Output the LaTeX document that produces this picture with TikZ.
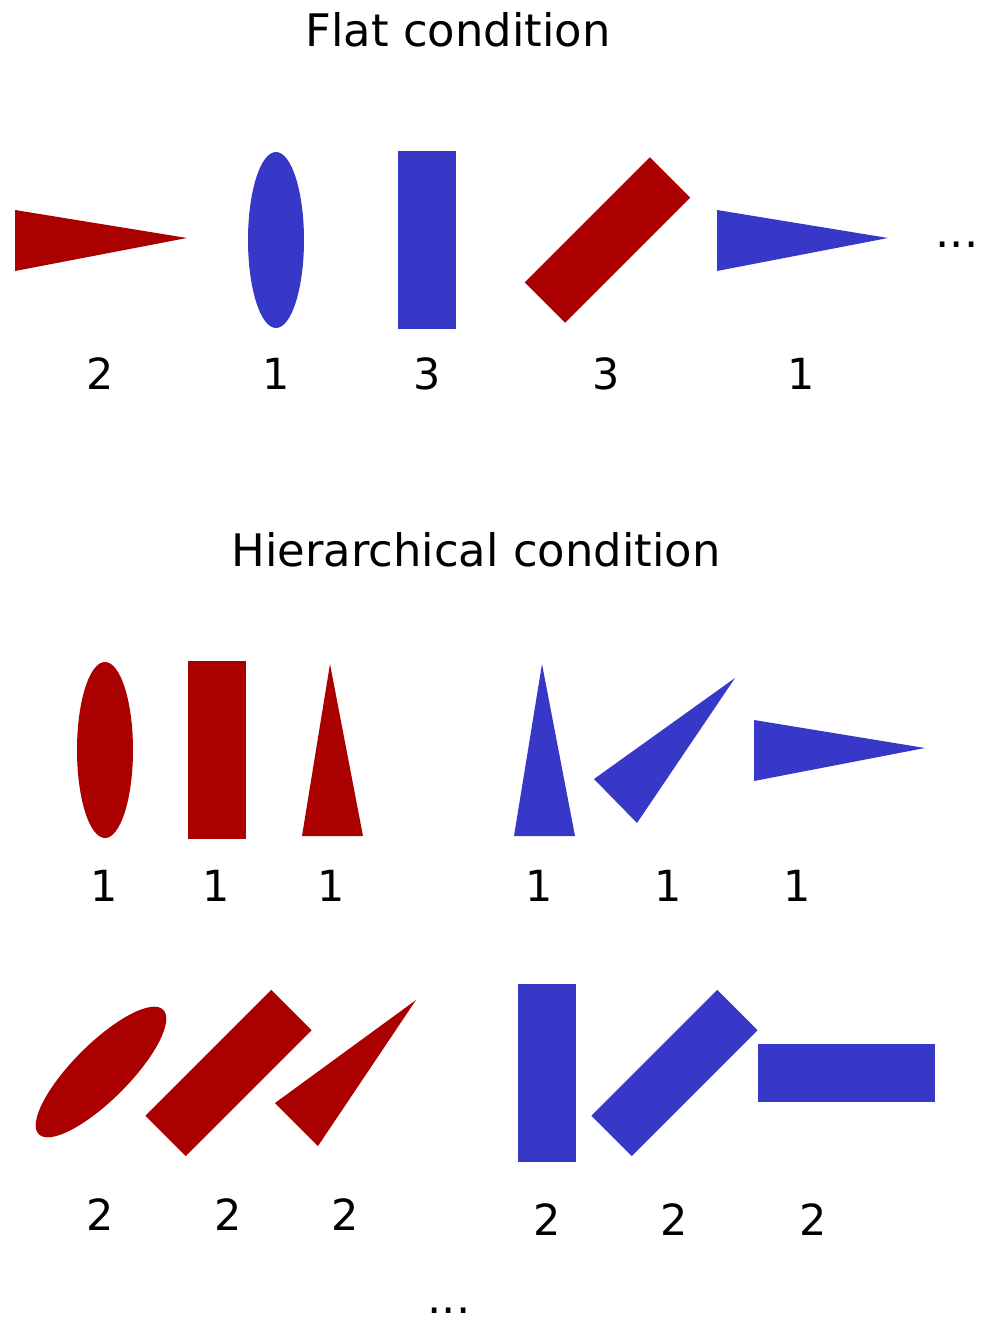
\documentclass[tikz,border=0pt]{standalone}
\usepackage{fontspec}
\setmainfont{DejaVu Sans}

\definecolor{shapered}{HTML}{AA0000}
\definecolor{shapeblue}{HTML}{3838C8}

\begin{document}
\begin{tikzpicture}[
    x=0.01cm, y=-0.01cm,
    title/.style={anchor=base, inner sep=0, font=\fontsize{12.75}{15}\selectfont},
    num/.style={anchor=base, inner sep=0, font=\fontsize{12.2}{14}\selectfont},
    redshape/.style={fill=shapered},
    blueshape/.style={fill=shapeblue}
]
\useasboundingbox (0,0) rectangle (989,1321);

% Titles
\node[title] (flattitle) at (458,47)  {Flat condition};
\node[title] (hiertitle) at (476,566) {Hierarchical condition};

% Flat condition shapes
\fill[redshape]  (15,210) -- (187,238) -- (15,271) -- cycle;
\fill[blueshape] (276,240) ellipse [x radius=28, y radius=88];
\fill[blueshape] (398,151) rectangle (456,329);
\fill[redshape, rotate around={-45:(607.5,240)}] (579,151.5) rectangle (636,328.5);
\fill[blueshape] (717,210) -- (888,238) -- (717,271) -- cycle;
\node[title] (flatdots) at (957,247) {...};

% Flat condition labels
\foreach \x/\lab [count=\i] in {100/2, 276/1, 427/3, 606/3, 801/1}
    \node[num] (flat\i) at (\x,389) {\lab};

% Hierarchical condition, first group
\fill[redshape]  (105,750) ellipse [x radius=28, y radius=88];
\fill[redshape]  (188,661) rectangle (246,839);
\fill[redshape]  (330,664) -- (363,836) -- (302,836) -- cycle;
\fill[blueshape] (542,664) -- (575,836) -- (514,836) -- cycle;
\fill[blueshape] (735,678) -- (637,823) -- (594,779) -- cycle;
\fill[blueshape] (754,720) -- (925,748) -- (754,781) -- cycle;

\foreach \x/\lab [count=\i] in {104/1, 216/1, 331/1, 539/1, 668/1, 797/1}
    \node[num] (first\i) at (\x,901) {\lab};

% Hierarchical condition, second group
\fill[redshape, rotate around={-45:(101,1072)}] (101,1072) ellipse [x radius=28, y radius=88];
\fill[redshape, rotate around={-45:(228.5,1073)}] (200,984) rectangle (257,1162);
\fill[redshape]  (416,1000) -- (318,1146) -- (275,1103) -- cycle;
\fill[blueshape] (518,984) rectangle (576,1162);
\fill[blueshape, rotate around={-45:(674.5,1073)}] (646,984) rectangle (703,1162);
\fill[blueshape] (758,1044) rectangle (935,1102);

\foreach \x/\lab [count=\i] in {100/2, 228/2, 345/2}
    \node[num] (second\i) at (\x,1230) {\lab};
\foreach \x/\lab [count=\i from 4] in {547/2, 674/2, 813/2}
    \node[num] (second\i) at (\x,1235) {\lab};

\node[title] (hierdots) at (449,1313) {...};

\end{tikzpicture}
\end{document}
